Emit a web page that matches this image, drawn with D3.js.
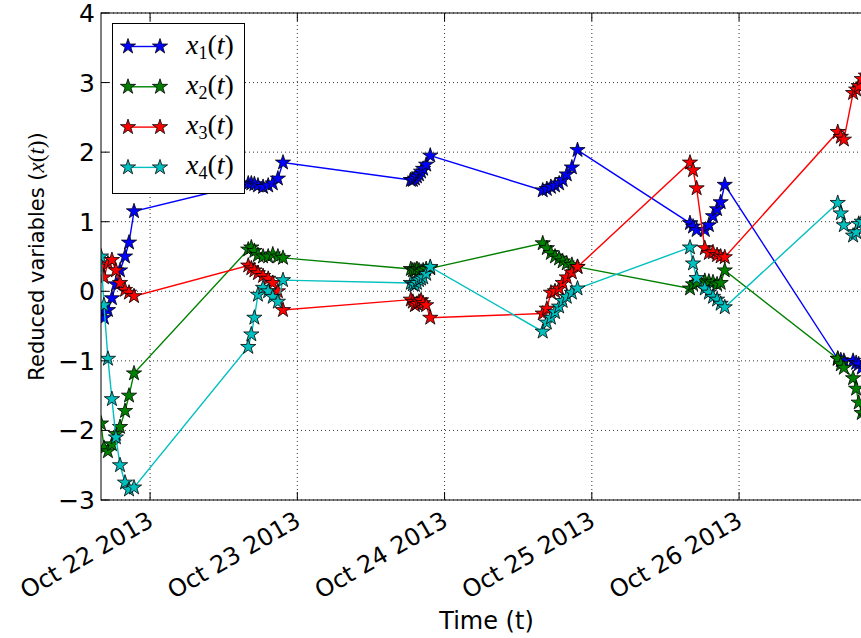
<!DOCTYPE html>
<html>
<head>
<meta charset="utf-8">
<script src="https://cdn.jsdelivr.net/npm/d3@7"></script>
<style>
  html, body { margin: 0; padding: 0; background: #fff; overflow: hidden; }
  svg { display: block; }
</style>
</head>
<body>
<svg id="chart" width="861" height="638"></svg>
<script>
// Sample timestamps (UTC), one trading window per day
const times = [
  "2013-10-21T16:00", "2013-10-21T16:29", "2013-10-21T17:08", "2013-10-21T17:47", "2013-10-21T18:26", "2013-10-21T19:06", "2013-10-21T19:55", "2013-10-21T20:34", "2013-10-21T21:23",
  "2013-10-22T16:00", "2013-10-22T16:30", "2013-10-22T17:00", "2013-10-22T17:35", "2013-10-22T18:25", "2013-10-22T19:15", "2013-10-22T20:00", "2013-10-22T20:50", "2013-10-22T21:40",
  "2013-10-23T18:30", "2013-10-23T18:50", "2013-10-23T19:10", "2013-10-23T19:30", "2013-10-23T19:50", "2013-10-23T20:10", "2013-10-23T20:30", "2013-10-23T21:00", "2013-10-23T21:40",
  "2013-10-24T16:00", "2013-10-24T16:40", "2013-10-24T17:20", "2013-10-24T18:00", "2013-10-24T18:40", "2013-10-24T19:15", "2013-10-24T19:55", "2013-10-24T20:45", "2013-10-24T21:40",
  "2013-10-25T16:00", "2013-10-25T16:30", "2013-10-25T17:05", "2013-10-25T18:25", "2013-10-25T19:05", "2013-10-25T19:45", "2013-10-25T20:25", "2013-10-25T21:00", "2013-10-25T21:40",
  "2013-10-26T16:05", "2013-10-26T16:35", "2013-10-26T17:05", "2013-10-26T18:35", "2013-10-26T19:05", "2013-10-26T19:30", "2013-10-26T20:00", "2013-10-26T20:40", "2013-10-26T21:40"
];

const x1 = [
  -0.30, -0.38, -0.27, -0.10, 0.10, 0.30, 0.50, 0.70, 1.15,
  1.55, 1.55, 1.54, 1.52, 1.50, 1.52, 1.55, 1.62, 1.85,
  1.60, 1.60, 1.62, 1.65, 1.68, 1.72, 1.76, 1.82, 1.95,
  1.45, 1.47, 1.50, 1.52, 1.55, 1.60, 1.68, 1.78, 2.03,
  0.98, 0.93, 0.88, 0.88, 0.95, 1.08, 1.18, 1.28, 1.53,
  -0.97, -0.99, -1.00, -1.00, -1.03, -1.05, -1.10, -1.12, -1.15
];
const x2 = [
  -1.90, -2.25, -2.30, -2.20, -2.05, -1.95, -1.72, -1.50, -1.18,
  0.60, 0.63, 0.58, 0.52, 0.50, 0.50, 0.53, 0.50, 0.48,
  0.32, 0.30, 0.30, 0.32, 0.30, 0.28, 0.30, 0.32, 0.33,
  0.69, 0.62, 0.55, 0.50, 0.47, 0.43, 0.40, 0.38, 0.35,
  0.04, 0.10, 0.12, 0.15, 0.14, 0.13, 0.10, 0.12, 0.30,
  -0.97, -1.05, -1.10, -1.25, -1.40, -1.60, -1.75, -1.80, -1.85
];
const x3 = [
  0.35, 0.20, 0.40, 0.45, 0.30, 0.12, 0.02, -0.02, -0.07,
  0.37, 0.33, 0.30, 0.26, 0.22, 0.18, 0.12, 0.00, -0.27,
  -0.12, -0.15, -0.20, -0.18, -0.15, -0.13, -0.17, -0.20, -0.38,
  -0.32, -0.25, -0.02, 0.00, 0.04, 0.12, 0.20, 0.27, 0.35,
  1.85, 1.74, 1.48, 0.62, 0.55, 0.56, 0.52, 0.50, 0.49,
  2.29, 2.22, 2.18, 2.85, 2.90, 2.95, 3.05, 3.10, 3.15
];
const x4 = [
  0.50, -0.20, -0.97, -1.55, -2.10, -2.50, -2.75, -2.85, -2.82,
  -0.80, -0.62, -0.38, -0.05, 0.05, 0.00, -0.08, -0.15, 0.16,
  0.12, 0.10, 0.09, 0.12, 0.16, 0.18, 0.20, 0.25, 0.35,
  -0.58, -0.45, -0.38, -0.30, -0.22, -0.14, -0.08, -0.02, 0.04,
  0.63, 0.40, 0.19, 0.04, -0.02, -0.08, -0.12, -0.18, -0.23,
  1.27, 1.12, 0.95, 0.80, 0.85, 0.97, 1.00, 1.02, 1.05
];

const seriesNames = ["1", "2", "3", "4"];
const seriesColors = ["#0000ff", "#008000", "#ff0000", "#00bfbf"];
const yTicks = [-3, -2, -1, 0, 1, 2, 3, 4];
const xTickDates = ["2013-10-22", "2013-10-23", "2013-10-24", "2013-10-25", "2013-10-26"];

(function draw() {
  const parseTime = d3.utcParse("%Y-%m-%dT%H:%M");
  const parseDay = d3.utcParse("%Y-%m-%d");
  const dates = times.map(parseTime);
  const series = [x1, x2, x3, x4].map((vals, i) => ({
    name: seriesNames[i],
    color: seriesColors[i],
    points: vals.map((v, j) => ({ t: dates[j], v }))
  }));

  const svg = d3.select("#chart");
  const pl = 101, pr = 872, pt = 13, pb = 500;

  const x = d3.scaleUtc().domain(d3.extent(dates)).range([pl, pr]);
  const y = d3.scaleLinear().domain([-3, 4]).range([pb, pt]);

  const sans = "DejaVu Sans, sans-serif";
  const serif = "Liberation Serif, serif";

  // clip region for the plotted data
  svg.append("defs").append("clipPath").attr("id", "plotClip")
    .append("rect").attr("x", pl).attr("y", pt)
    .attr("width", pr - pl).attr("height", pb - pt);

  // dotted grid
  const grid = svg.append("g");
  const xt = xTickDates.map(parseDay);
  grid.selectAll("line.gx").data(xt).join("line")
    .attr("x1", d => x(d)).attr("x2", d => x(d))
    .attr("y1", pt).attr("y2", pb)
    .attr("stroke", "#000").attr("stroke-width", 0.8).attr("stroke-dasharray", "1,3");
  grid.selectAll("line.gy").data(yTicks).join("line")
    .attr("x1", pl).attr("x2", pr)
    .attr("y1", d => y(d)).attr("y2", d => y(d))
    .attr("stroke", "#000").attr("stroke-width", 0.8).attr("stroke-dasharray", "1,3");

  // five-pointed star marker
  function starPath(R) {
    const r = R * 0.381966;
    const pts = [];
    for (let k = 0; k < 10; k++) {
      const a = -Math.PI / 2 + k * Math.PI / 5;
      const rad = k % 2 === 0 ? R : r;
      pts.push([rad * Math.cos(a), rad * Math.sin(a)]);
    }
    return "M" + pts.map(p => p[0].toFixed(2) + "," + p[1].toFixed(2)).join("L") + "Z";
  }
  const star = starPath(8);

  const line = d3.line().x(d => x(d.t)).y(d => y(d.v));
  const plot = svg.append("g").attr("clip-path", "url(#plotClip)");
  series.forEach(s => {
    const g = plot.append("g");
    g.append("path").datum(s.points)
      .attr("d", line).attr("fill", "none")
      .attr("stroke", s.color).attr("stroke-width", 1.4);
    g.selectAll("path.m").data(s.points).join("path")
      .attr("class", "m")
      .attr("transform", d => `translate(${x(d.t)},${y(d.v)})`)
      .attr("d", star).attr("fill", s.color)
      .attr("stroke", "#000").attr("stroke-width", 0.8);
  });

  // axes frame
  svg.append("rect").attr("x", pl).attr("y", pt)
    .attr("width", pr - pl).attr("height", pb - pt)
    .attr("fill", "none").attr("stroke", "#000").attr("stroke-width", 1);

  // inward ticks, both sides
  const tl = 8;
  const ticks = svg.append("g").attr("stroke", "#000").attr("stroke-width", 1);
  xt.forEach(d => {
    ticks.append("line").attr("x1", x(d)).attr("x2", x(d)).attr("y1", pb).attr("y2", pb - tl);
    ticks.append("line").attr("x1", x(d)).attr("x2", x(d)).attr("y1", pt).attr("y2", pt + tl);
  });
  yTicks.forEach(d => {
    ticks.append("line").attr("x1", pl).attr("x2", pl + tl).attr("y1", y(d)).attr("y2", y(d));
    ticks.append("line").attr("x1", pr).attr("x2", pr - tl).attr("y1", y(d)).attr("y2", y(d));
  });

  // y tick labels
  const fmtY = d => (d < 0 ? "\u2212" + Math.abs(d) : String(d));
  svg.append("g").selectAll("text").data(yTicks).join("text")
    .attr("x", pl - 6).attr("y", d => y(d)).attr("dy", "0.36em")
    .attr("text-anchor", "end").attr("font-family", sans).attr("font-size", 25)
    .text(fmtY);

  // x tick labels, rotated
  const fmtX = d3.utcFormat("%b %d %Y");
  svg.append("g").selectAll("text").data(xt).join("text")
    .attr("transform", d => `translate(${x(d) + 5},${pb + 25}) rotate(-30)`)
    .attr("text-anchor", "end").attr("font-family", sans).attr("font-size", 24)
    .text(fmtX);

  // axis titles
  svg.append("text").attr("x", (pl + pr) / 2).attr("y", 629)
    .attr("text-anchor", "middle").attr("font-family", sans).attr("font-size", 24)
    .text("Time (t)");

  const yl = svg.append("text")
    .attr("transform", `translate(44,${(pt + pb) / 2}) rotate(-90)`)
    .attr("text-anchor", "middle").attr("font-family", sans).attr("font-size", 21);
  yl.append("tspan").text("Reduced variables (");
  yl.append("tspan").attr("font-family", serif).attr("font-style", "italic").attr("font-size", 23).text("x");
  yl.append("tspan").attr("font-family", serif).attr("font-size", 23).text("(");
  yl.append("tspan").attr("font-family", serif).attr("font-style", "italic").attr("font-size", 23).text("t");
  yl.append("tspan").attr("font-family", serif).attr("font-size", 23).text(")");
  yl.append("tspan").text(")");

  // legend
  const lg = svg.append("g");
  lg.append("rect").attr("x", 112.5).attr("y", 23.5).attr("width", 132).attr("height", 170)
    .attr("fill", "#fff").attr("stroke", "#000").attr("stroke-width", 1);
  series.forEach((s, i) => {
    const cy = 46.5 + i * 40.3;
    const row = lg.append("g");
    row.append("line").attr("x1", 128).attr("x2", 160).attr("y1", cy).attr("y2", cy)
      .attr("stroke", s.color).attr("stroke-width", 1.4);
    [128, 160].forEach(cx => row.append("path").attr("d", star)
      .attr("transform", `translate(${cx},${cy})`)
      .attr("fill", s.color).attr("stroke", "#000").attr("stroke-width", 0.8));
    const t = row.append("text").attr("x", 186).attr("y", cy + 7)
      .attr("font-family", serif).attr("font-size", 28);
    t.append("tspan").attr("font-style", "italic").text("x");
    t.append("tspan").attr("font-size", 18).attr("dy", 5).text(s.name);
    t.append("tspan").attr("dy", -5).text("(");
    t.append("tspan").attr("font-style", "italic").text("t");
    t.append("tspan").text(")");
  });
})();
</script>
</body>
</html>
